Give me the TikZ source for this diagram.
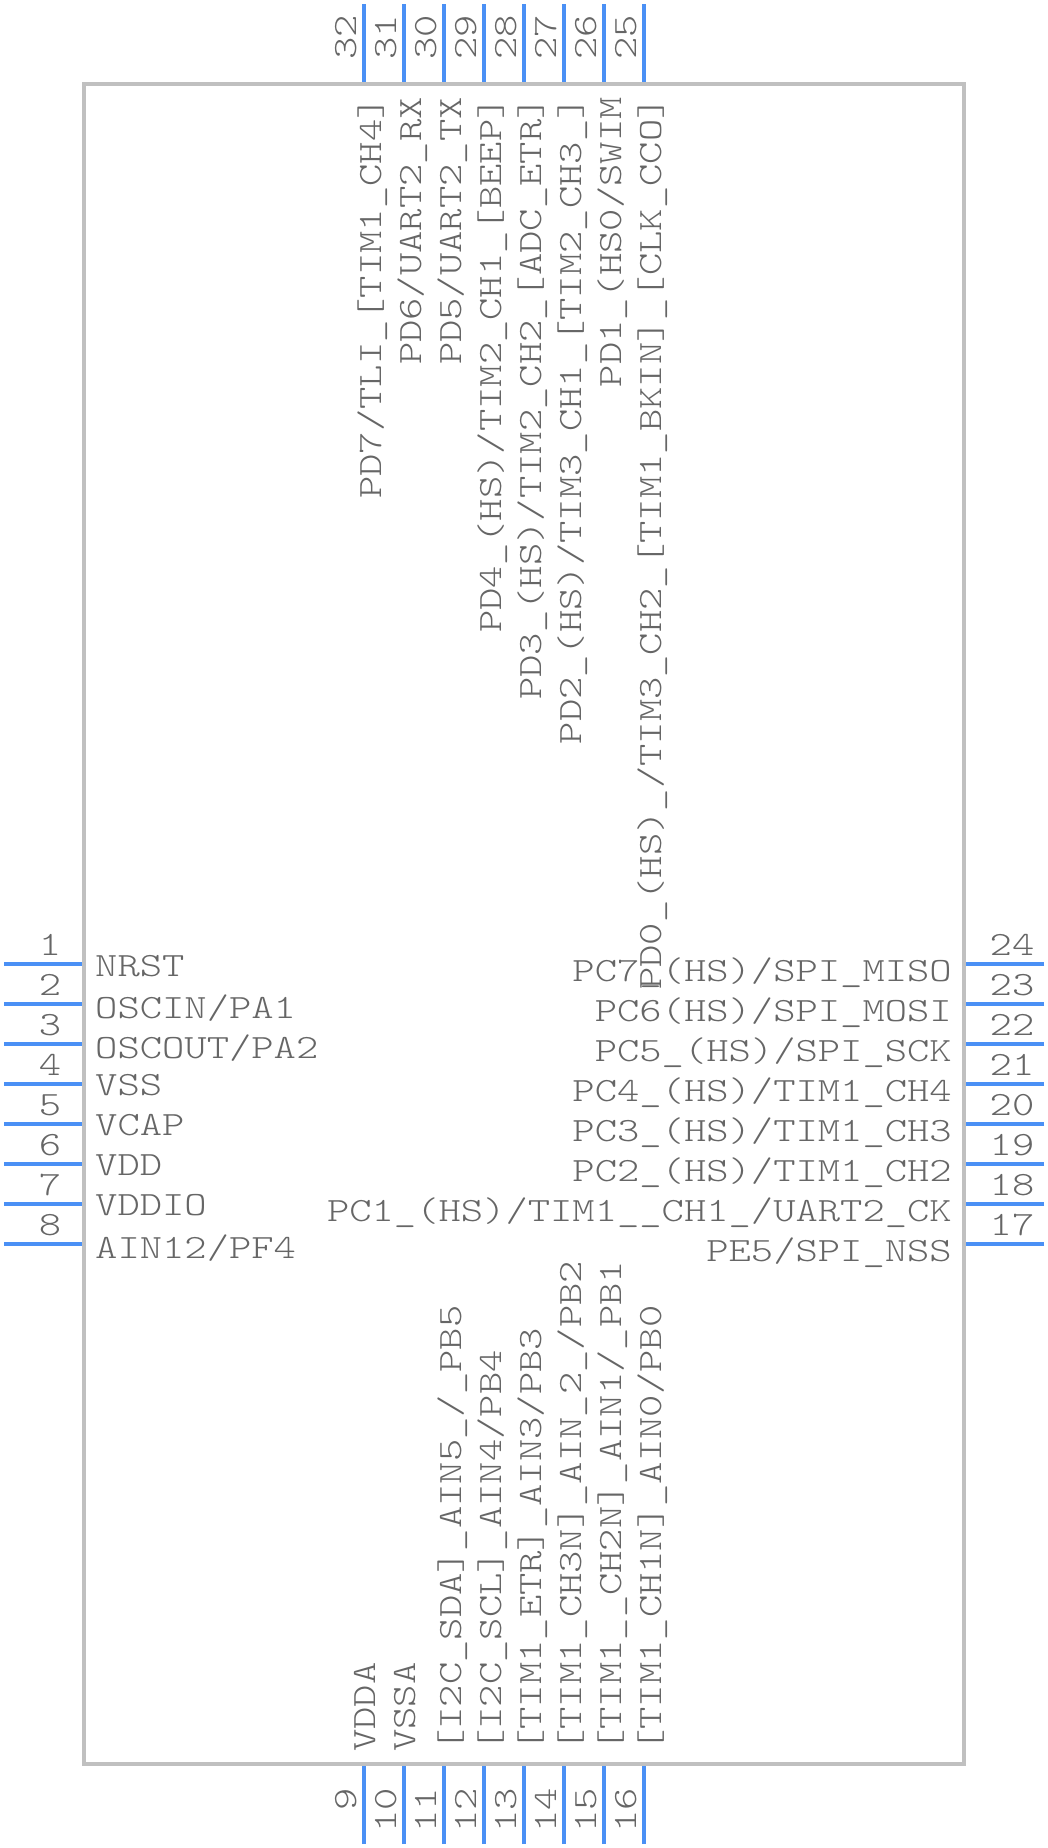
\documentclass[tikz,border=0pt]{standalone}
\usepackage{fontspec}
\newfontfamily\pinfont[FakeStretch=1.25]{Latin Modern Mono Light}
\definecolor{leadblue}{HTML}{4A90F5}
\definecolor{boxgrey}{HTML}{C0C0C0}
\definecolor{textgrey}{HTML}{666666}
\begin{document}
\begin{tikzpicture}[x=1pt, y=-1pt,
			chip/.style = {draw=boxgrey, line width=4pt, rectangle, minimum width=880pt, minimum height=1680pt, inner sep=0pt},
			lead/.style = {draw=leadblue, line width=4pt},
			lbl/.style = {text=textgrey, inner sep=0pt, font=\pinfont\fontsize{34}{34}\selectfont},
			up/.style = {rotate=90}]
			
			\useasboundingbox (0,0) rectangle (1048,1848);
			
			\node[chip] (ic) at (524,924) {};
			
			\coordinate (e1) at (4,964);
			\coordinate (e2) at (4,1004);
			\coordinate (e3) at (4,1044);
			\coordinate (e4) at (4,1084);
			\coordinate (e5) at (4,1124);
			\coordinate (e6) at (4,1164);
			\coordinate (e7) at (4,1204);
			\coordinate (e8) at (4,1244);
			\coordinate (e9) at (364,1844);
			\coordinate (e10) at (404,1844);
			\coordinate (e11) at (444,1844);
			\coordinate (e12) at (484,1844);
			\coordinate (e13) at (524,1844);
			\coordinate (e14) at (564,1844);
			\coordinate (e15) at (604,1844);
			\coordinate (e16) at (644,1844);
			\coordinate (e17) at (1044,1244);
			\coordinate (e18) at (1044,1204);
			\coordinate (e19) at (1044,1164);
			\coordinate (e20) at (1044,1124);
			\coordinate (e21) at (1044,1084);
			\coordinate (e22) at (1044,1044);
			\coordinate (e23) at (1044,1004);
			\coordinate (e24) at (1044,964);
			\coordinate (e25) at (644,4);
			\coordinate (e26) at (604,4);
			\coordinate (e27) at (564,4);
			\coordinate (e28) at (524,4);
			\coordinate (e29) at (484,4);
			\coordinate (e30) at (444,4);
			\coordinate (e31) at (404,4);
			\coordinate (e32) at (364,4);
			
			\draw[lead] (e1) to (e1 -| ic.west);
			\draw[lead] (e2) to (e2 -| ic.west);
			\draw[lead] (e3) to (e3 -| ic.west);
			\draw[lead] (e4) to (e4 -| ic.west);
			\draw[lead] (e5) to (e5 -| ic.west);
			\draw[lead] (e6) to (e6 -| ic.west);
			\draw[lead] (e7) to (e7 -| ic.west);
			\draw[lead] (e8) to (e8 -| ic.west);
			\draw[lead] (e9) to (e9 |- ic.south);
			\draw[lead] (e10) to (e10 |- ic.south);
			\draw[lead] (e11) to (e11 |- ic.south);
			\draw[lead] (e12) to (e12 |- ic.south);
			\draw[lead] (e13) to (e13 |- ic.south);
			\draw[lead] (e14) to (e14 |- ic.south);
			\draw[lead] (e15) to (e15 |- ic.south);
			\draw[lead] (e16) to (e16 |- ic.south);
			\draw[lead] (e17) to (e17 -| ic.east);
			\draw[lead] (e18) to (e18 -| ic.east);
			\draw[lead] (e19) to (e19 -| ic.east);
			\draw[lead] (e20) to (e20 -| ic.east);
			\draw[lead] (e21) to (e21 -| ic.east);
			\draw[lead] (e22) to (e22 -| ic.east);
			\draw[lead] (e23) to (e23 -| ic.east);
			\draw[lead] (e24) to (e24 -| ic.east);
			\draw[lead] (e25) to (e25 |- ic.north);
			\draw[lead] (e26) to (e26 |- ic.north);
			\draw[lead] (e27) to (e27 |- ic.north);
			\draw[lead] (e28) to (e28 |- ic.north);
			\draw[lead] (e29) to (e29 |- ic.north);
			\draw[lead] (e30) to (e30 |- ic.north);
			\draw[lead] (e31) to (e31 |- ic.north);
			\draw[lead] (e32) to (e32 |- ic.north);
			
			\node[lbl, anchor=base] (n1) at (50,955) {1};
			\node[lbl, anchor=base] (n2) at (50,995) {2};
			\node[lbl, anchor=base] (n3) at (50,1035) {3};
			\node[lbl, anchor=base] (n4) at (50,1075) {4};
			\node[lbl, anchor=base] (n5) at (50,1115) {5};
			\node[lbl, anchor=base] (n6) at (50,1155) {6};
			\node[lbl, anchor=base] (n7) at (50,1195) {7};
			\node[lbl, anchor=base] (n8) at (50,1235) {8};
			\node[lbl, up, anchor=base east] (n9) at (356,1788) {9};
			\node[lbl, up, anchor=base east] (n10) at (396,1788) {10};
			\node[lbl, up, anchor=base east] (n11) at (436,1788) {11};
			\node[lbl, up, anchor=base east] (n12) at (476,1788) {12};
			\node[lbl, up, anchor=base east] (n13) at (516,1788) {13};
			\node[lbl, up, anchor=base east] (n14) at (556,1788) {14};
			\node[lbl, up, anchor=base east] (n15) at (596,1788) {15};
			\node[lbl, up, anchor=base east] (n16) at (636,1788) {16};
			\node[lbl, anchor=base] (n17) at (1012,1235) {17};
			\node[lbl, anchor=base] (n18) at (1012,1195) {18};
			\node[lbl, anchor=base] (n19) at (1012,1155) {19};
			\node[lbl, anchor=base] (n20) at (1012,1115) {20};
			\node[lbl, anchor=base] (n21) at (1012,1075) {21};
			\node[lbl, anchor=base] (n22) at (1012,1035) {22};
			\node[lbl, anchor=base] (n23) at (1012,995) {23};
			\node[lbl, anchor=base] (n24) at (1012,955) {24};
			\node[lbl, up, anchor=base east] (n25) at (636,15) {25};
			\node[lbl, up, anchor=base east] (n26) at (596,15) {26};
			\node[lbl, up, anchor=base east] (n27) at (556,15) {27};
			\node[lbl, up, anchor=base east] (n28) at (516,15) {28};
			\node[lbl, up, anchor=base east] (n29) at (476,15) {29};
			\node[lbl, up, anchor=base east] (n30) at (436,15) {30};
			\node[lbl, up, anchor=base east] (n31) at (396,15) {31};
			\node[lbl, up, anchor=base east] (n32) at (356,15) {32};
			
			\node[lbl, anchor=base west] (t1) at (95,976) {NRST};
			\node[lbl, anchor=base west] (t2) at (95,1018) {OSCIN/PA1};
			\node[lbl, anchor=base west] (t3) at (95,1058) {OSCOUT/PA2};
			\node[lbl, anchor=base west] (t4) at (95,1095) {VSS};
			\node[lbl, anchor=base west] (t5) at (95,1135) {VCAP};
			\node[lbl, anchor=base west] (t6) at (95,1175) {VDD};
			\node[lbl, anchor=base west] (t7) at (95,1215) {VDDIO};
			\node[lbl, anchor=base west] (t8) at (95,1258) {AIN12/PF4};
			\node[lbl, up, anchor=base west] (t9) at (375,1752) {VDDA};
			\node[lbl, up, anchor=base west] (t10) at (415,1752) {VSSA};
			\node[lbl, up, anchor=base west] (t11) at (461.7,1752) {[I2C\_SDA]\_AIN5\_/\_PB5};
			\node[lbl, up, anchor=base west] (t12) at (501.7,1752) {[I2C\_SCL]\_AIN4/PB4};
			\node[lbl, up, anchor=base west] (t13) at (541.7,1752) {[TIM1\_ETR]\_AIN3/PB3};
			\node[lbl, up, anchor=base west] (t14) at (581.7,1752) {[TIM1\_CH3N]\_AIN\_2\_/PB2};
			\node[lbl, up, anchor=base west] (t15) at (621.7,1752) {[TIM1\_\_CH2N]\_AIN1/\_PB1};
			\node[lbl, up, anchor=base west] (t16) at (661.7,1752) {[TIM1\_CH1N]\_AIN0/PB0};
			\node[lbl, anchor=base east] (t17) at (952,1261.7) {PE5/SPI\_NSS};
			\node[lbl, anchor=base east] (t18) at (952,1221.7) {PC1\_(HS)/TIM1\_\_CH1\_/UART2\_CK};
			\node[lbl, anchor=base east] (t19) at (952,1181.7) {PC2\_(HS)/TIM1\_CH2};
			\node[lbl, anchor=base east] (t20) at (952,1141.7) {PC3\_(HS)/TIM1\_CH3};
			\node[lbl, anchor=base east] (t21) at (952,1101.7) {PC4\_(HS)/TIM1\_CH4};
			\node[lbl, anchor=base east] (t22) at (952,1061.7) {PC5\_(HS)/SPI\_SCK};
			\node[lbl, anchor=base east] (t23) at (952,1021.7) {PC6(HS)/SPI\_MOSI};
			\node[lbl, anchor=base east] (t24) at (952,981.7) {PC7\_(HS)/SPI\_MISO};
			\node[lbl, up, anchor=base east] (t25) at (661.7,97) {PD0\_(HS)\_/TIM3\_CH2\_[TIM1\_BKIN]\_[CLK\_CCO]};
			\node[lbl, up, anchor=base east] (t26) at (621.7,97) {PD1\_(HS0/SWIM};
			\node[lbl, up, anchor=base east] (t27) at (581.7,97) {PD2\_(HS)/TIM3\_CH1\_[TIM2\_CH3\_]};
			\node[lbl, up, anchor=base east] (t28) at (541.7,97) {PD3\_(HS)/TIM2\_CH2\_[ADC\_ETR]};
			\node[lbl, up, anchor=base east] (t29) at (501.7,97) {PD4\_(HS)/TIM2\_CH1\_[BEEP]};
			\node[lbl, up, anchor=base east] (t30) at (461.7,97) {PD5/UART2\_TX};
			\node[lbl, up, anchor=base east] (t31) at (421.7,97) {PD6/UART2\_RX};
			\node[lbl, up, anchor=base east] (t32) at (381.7,97) {PD7/TLI\_[TIM1\_CH4]};
			
		\end{tikzpicture}
\end{document}
